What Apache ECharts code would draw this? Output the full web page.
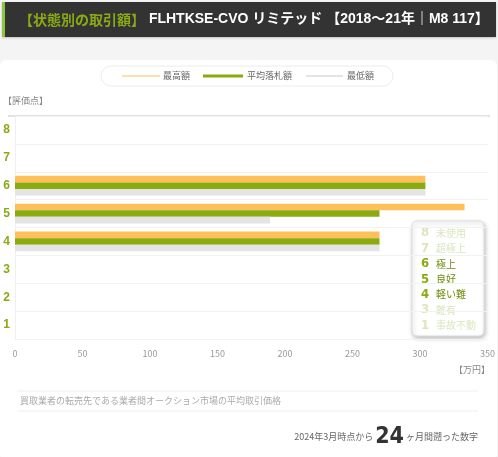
<!DOCTYPE html>
<html><head><meta charset="utf-8">
<script src="https://cdn.jsdelivr.net/npm/echarts@6/dist/echarts.min.js"></script>
<style>html,body{margin:0;padding:0;background:#f4f4f4;}#c{width:498px;height:457px;}</style>
</head><body><div id="c"></div>
<script>
const categories = ['1','2','3','4','5','6','7','8'];
const maxPrice = [null, null, null, 270, 333, 304, null, null];
const avgPrice = [null, null, null, 270, 270, 304, null, null];
const minPrice = [null, null, null, 270, 189, 304, null, null];
const xTicks = [0, 50, 100, 150, 200, 250, 300, 350];
const seriesNames = ['最高額', '平均落札額', '最低額'];
const gradeLegend = [
  ['8', '未使用', false], ['7', '超極上', false], ['6', '極上', true], ['5', '良好', true],
  ['4', '軽い難', true], ['3', '難有', false], ['1', '事故不動', false]
];
const FONT = '"Noto Sans CJK JP", "Noto Sans", sans-serif';
const LFONT = '"Liberation Sans", "Noto Sans CJK JP", sans-serif';
const C_MAX = '#ffbf5a', C_AVG = '#8aaa0f', C_MIN = '#e4e4e4', C_G = '#8aaa14';

const chart = echarts.init(document.getElementById('c'));

const gradeEls = [{
  type: 'rect', shape: { x: 0, y: 0, width: 72, height: 115, r: 5 },
  style: { fill: '#fff', stroke: '#ddd', lineWidth: 1, shadowBlur: 4, shadowOffsetX: 1, shadowOffsetY: 2, shadowColor: 'rgba(0,0,0,0.25)' }
}];
gradeLegend.forEach((g, i) => {
  const y = 12 + i * 15.4;
  gradeEls.push({ type: 'text', x: 9, y: y, style: { text: g[0], font: 'bold 13px "DejaVu Sans Condensed", ' + FONT, fill: g[2] ? C_G : '#dbe6bf', verticalAlign: 'middle' } });
  gradeEls.push({ type: 'text', x: 24, y: y, style: { text: g[1], font: '10px ' + FONT, fill: g[2] ? '#6f8c0c' : '#dbe6bf', verticalAlign: 'middle' } });
});

chart.setOption({
  textStyle: { fontFamily: FONT },
  animation: false,
  grid: { left: 15, right: 7, top: 116, bottom: 118, containLabel: false },
  xAxis: {
    type: 'value', min: 0, max: 350, interval: 50,
    axisLine: { show: false }, axisTick: { show: false }, splitLine: { show: false },
    axisLabel: { color: '#999', fontSize: 9, margin: 10, formatter: v => xTicks.includes(v) ? String(v) : '' }
  },
  yAxis: {
    type: 'category', data: categories,
    axisLine: { show: true, lineStyle: { color: '#f0f0f0' } }, axisTick: { show: false },
    splitLine: { show: true, lineStyle: { color: '#f2f2f2' } },
    axisLabel: { color: C_G, fontWeight: 'bold', fontSize: 12, margin: 5, fontFamily: LFONT }
  },
  series: [
    { name: seriesNames[0], type: 'bar', data: maxPrice, barWidth: 6.6, barGap: '0%', itemStyle: { color: C_MAX } },
    { name: seriesNames[1], type: 'bar', data: avgPrice, barWidth: 6.6, barGap: '0%', itemStyle: { color: C_AVG } },
    { name: seriesNames[2], type: 'bar', data: minPrice, barWidth: 6.6, barGap: '0%', itemStyle: { color: C_MIN } }
  ],
  graphic: [
    { type: 'rect', z: -10, shape: { x: 0, y: 60, width: 497, height: 400, r: 6 }, style: { fill: '#fff' } },
    { type: 'rect', shape: { x: 2, y: 2, width: 494, height: 35 }, style: { fill: '#333', shadowBlur: 2, shadowColor: 'rgba(0,0,0,0.2)', shadowOffsetY: 1 } },
    { type: 'rect', shape: { x: 2, y: 2, width: 3, height: 35 }, style: { fill: '#8cc63f' } },
    { type: 'text', x: 19, y: 19.5, style: { text: '{g|【状態別の取引額】}{w| FLHTKSE-CVO リミテッド 【2018～21年｜M8 117】}', verticalAlign: 'middle',
      rich: { g: { font: 'bold 14px ' + FONT, fill: C_G, color: C_G }, w: { font: 'bold 14px ' + LFONT, fill: '#fff', color: '#fff' } } } },
    // legend
    { type: 'rect', shape: { x: 101, y: 66, width: 292, height: 20, r: 10 }, style: { fill: '#fff', stroke: '#ececec', lineWidth: 1 } },
    { type: 'line', shape: { x1: 122, y1: 76, x2: 160, y2: 76 }, style: { stroke: C_MAX, lineWidth: 1 } },
    { type: 'text', x: 163, y: 76, style: { text: seriesNames[0], font: '9px ' + FONT, fill: '#666', verticalAlign: 'middle' } },
    { type: 'line', shape: { x1: 203, y1: 76, x2: 243, y2: 76 }, style: { stroke: C_AVG, lineWidth: 3 } },
    { type: 'text', x: 247, y: 76, style: { text: seriesNames[1], font: '9px ' + FONT, fill: '#666', verticalAlign: 'middle' } },
    { type: 'line', shape: { x1: 306, y1: 76, x2: 343, y2: 76 }, style: { stroke: C_MIN, lineWidth: 2 } },
    { type: 'text', x: 347, y: 76, style: { text: seriesNames[2], font: '9px ' + FONT, fill: '#666', verticalAlign: 'middle' } },
    // axis names
    { type: 'text', x: 3, y: 101, style: { text: '【評価点】', font: '9px ' + FONT, fill: '#888', verticalAlign: 'middle' } },
    { type: 'line', shape: { x1: 8, y1: 116, x2: 490, y2: 116 }, style: { stroke: '#e2e2e2', lineWidth: 2 } },
    { type: 'text', x: 490, y: 370, style: { text: '【万円】', font: '9px ' + FONT, fill: '#888', align: 'right', verticalAlign: 'middle' } },
    // grade box
    { type: 'group', x: 412, y: 221, children: gradeEls },
    // footer
    { type: 'line', shape: { x1: 17, y1: 391, x2: 478, y2: 391 }, style: { stroke: '#eee', lineWidth: 1 } },
    { type: 'text', x: 20, y: 401, style: { text: '買取業者の転売先である業者間オークション市場の平均取引価格', font: '9px ' + FONT, fill: '#aaa', verticalAlign: 'middle' } },
    { type: 'line', shape: { x1: 17, y1: 411, x2: 478, y2: 411 }, style: { stroke: '#eee', lineWidth: 1 } },
    { type: 'text', x: 478, y: 437, style: { text: '{a|2024年3月時点から }{b|24}{a| ヶ月間遡った数字}', align: 'right', verticalAlign: 'middle',
      rich: { a: { font: '9px ' + FONT, fill: '#666', color: '#666' }, b: { font: 'bold 23px "DejaVu Sans Condensed", ' + FONT, fill: '#333', color: '#333' } } } }
  ]
});
</script></body></html>
